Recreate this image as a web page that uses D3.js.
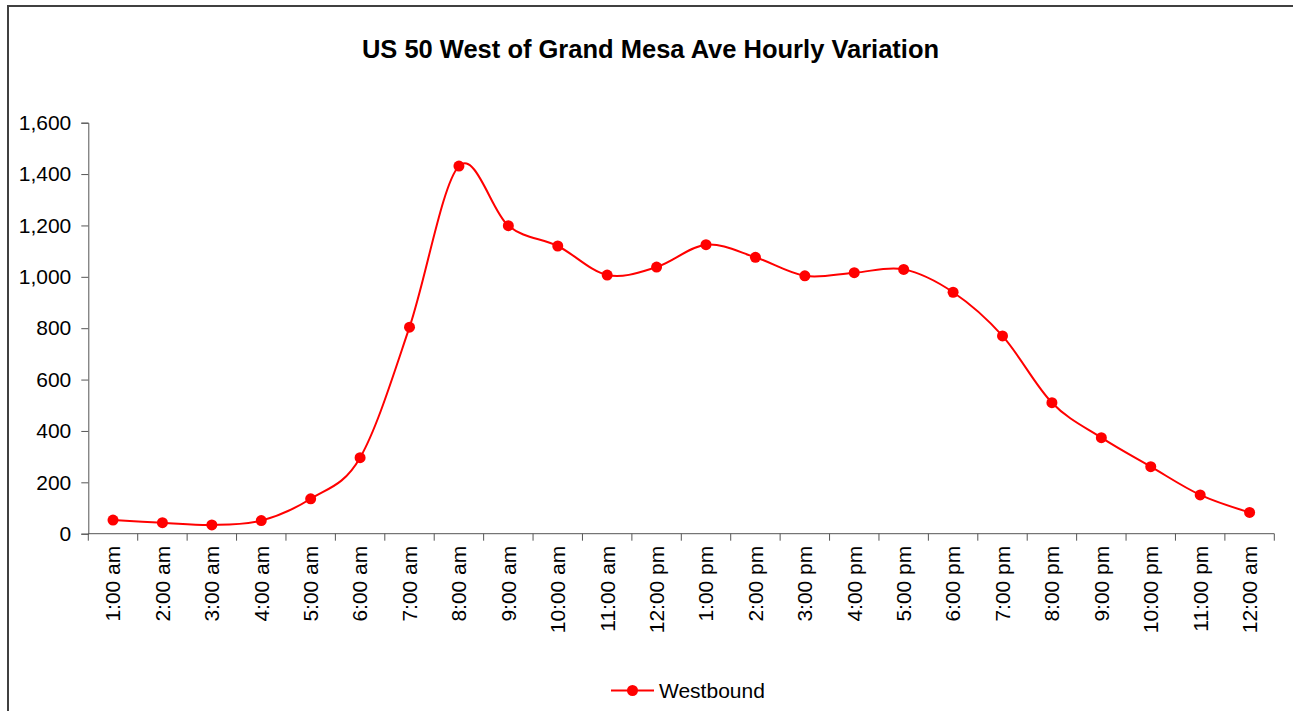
<!DOCTYPE html>
<html>
<head>
<meta charset="utf-8">
<script src="https://cdn.jsdelivr.net/npm/d3@7"></script>
<style>
  body { margin: 0; background: #fff; }
  svg { display: block; font-family: "Liberation Sans", Arial, sans-serif; }
</style>
</head>
<body>
<div class="chart"></div>
<script>
// hourly counts
var hours = ["1:00 am", "2:00 am", "3:00 am", "4:00 am", "5:00 am", "6:00 am",
             "7:00 am", "8:00 am", "9:00 am", "10:00 am", "11:00 am", "12:00 pm",
             "1:00 pm", "2:00 pm", "3:00 pm", "4:00 pm", "5:00 pm", "6:00 pm",
             "7:00 pm", "8:00 pm", "9:00 pm", "10:00 pm", "11:00 pm", "12:00 am"];
var westbound = [53, 43, 34, 51, 136, 296, 804, 1431, 1199, 1120, 1007, 1038,
                 1125, 1076, 1004, 1016, 1029, 940, 770, 510, 374, 261, 151, 83];
var yTicks = [0, 200, 400, 600, 800, 1000, 1200, 1400, 1600];
var title = "US 50 West of Grand Mesa Ave Hourly Variation";
var seriesName = "Westbound";

var w = 1293, h = 711;
var margin = {top: 122.7, left: 88.3, right: 1293 - 1274.3, bottom: 711 - 533.7};
var red = "#ff0000";
var fs = "21px";

var svg = d3.select("div.chart")
            .append("svg")
            .attr("width", w)
            .attr("height", h);

// outer frame
svg.append("rect")
    .attr("x", 8)
    .attr("y", 6)
    .attr("width", w + 10)
    .attr("height", h + 10)
    .attr("fill", "none")
    .attr("stroke", "#404040")
    .attr("stroke-width", 2);

svg.append("text")
    .attr("x", 650.5)
    .attr("y", 58)
    .attr("text-anchor", "middle")
    .attr("font-size", "25.5px")
    .attr("font-weight", "bold")
    .text(title);

var x = d3.scaleBand()
    .domain(hours)
    .range([margin.left, w - margin.right]);

var y = d3.scaleLinear()
    .domain([0, 1600])
    .range([h - margin.bottom, margin.top]);

// y axis
var yAxis = svg.append("g")
    .attr("transform", "translate(" + margin.left + ",0)")
    .call(d3.axisLeft(y)
        .tickValues(yTicks)
        .tickSize(7)
        .tickPadding(10)
        .tickFormat(d3.format(",")));

// x axis, ticks at category boundaries
var xAxis = svg.append("g")
    .attr("transform", "translate(0," + y(0) + ")");

xAxis.append("line")
    .attr("x1", margin.left)
    .attr("x2", w - margin.right)
    .attr("stroke", "#555");

xAxis.selectAll("line.tick")
    .data(d3.range(hours.length + 1))
    .enter()
    .append("line")
    .attr("class", "tick")
    .attr("x1", function(i) { return margin.left + i * x.step(); })
    .attr("x2", function(i) { return margin.left + i * x.step(); })
    .attr("y2", 7)
    .attr("stroke", "#555");

xAxis.selectAll("text")
    .data(hours)
    .enter()
    .append("text")
    .attr("transform", function(d) {
        return "translate(" + (x(d) + x.bandwidth() / 2) + ",12) rotate(-90)";
    })
    .attr("text-anchor", "end")
    .attr("dy", "0.35em")
    .attr("font-size", fs)
    .attr("fill", "#000")
    .text(function(d) { return d; });

yAxis.select(".domain").attr("stroke", "#555");
yAxis.selectAll(".tick line").attr("stroke", "#555");
yAxis.selectAll(".tick text")
    .attr("font-size", fs)
    .attr("font-family", "Liberation Sans, Arial, sans-serif")
    .attr("fill", "#000");

// series
var line = d3.line()
    .x(function(d, i) { return x(hours[i]) + x.bandwidth() / 2; })
    .y(function(d) { return y(d); })
    .curve(d3.curveCardinal.tension(0));

svg.append("path")
    .datum(westbound)
    .attr("d", line)
    .attr("fill", "none")
    .attr("stroke", red)
    .attr("stroke-width", 2);

svg.selectAll("circle.pt")
    .data(westbound)
    .enter()
    .append("circle")
    .attr("class", "pt")
    .attr("cx", function(d, i) { return x(hours[i]) + x.bandwidth() / 2; })
    .attr("cy", function(d) { return y(d); })
    .attr("r", 5.5)
    .attr("fill", red);

// legend
var legend = svg.append("g").attr("transform", "translate(611,690.5)");
legend.append("line")
    .attr("x2", 43)
    .attr("stroke", red)
    .attr("stroke-width", 2);
legend.append("circle")
    .attr("cx", 21.5)
    .attr("r", 5.5)
    .attr("fill", red);
legend.append("text")
    .attr("x", 48)
    .attr("dy", "0.35em")
    .attr("font-size", fs)
    .text(seriesName);
</script>
</body>
</html>
